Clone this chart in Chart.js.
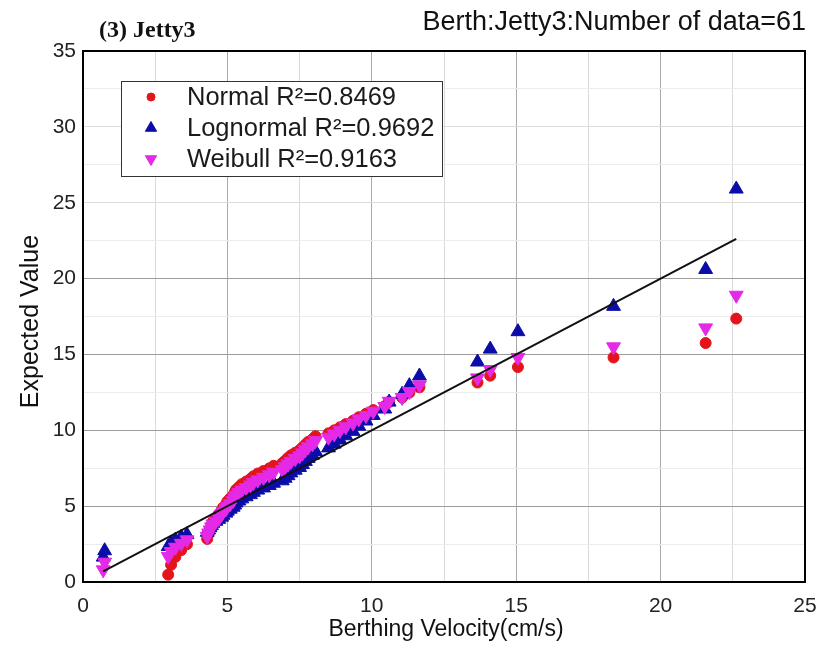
<!DOCTYPE html>
<html>
<head>
<meta charset="utf-8">
<script src="https://cdn.jsdelivr.net/npm/chart.js@4.4.1/dist/chart.umd.min.js"></script>
<style>
  html, body { margin: 0; padding: 0; background: #ffffff; }
  #wrap { width: 823px; height: 649px; }
</style>
</head>
<body>
<div id="wrap"><canvas id="chart" width="823" height="649"></canvas></div>
<script>
// Observed berthing velocities (cm/s), sorted ascending
const velocity = [0.70, 0.75, 2.95, 3.05, 3.20, 3.40, 3.60, 4.30, 4.35, 4.40,
  4.45, 4.50, 4.60, 4.70, 4.80, 4.85, 4.95, 5.00, 5.10, 5.20,
  5.25, 5.30, 5.40, 5.50, 5.65, 5.80, 5.90, 6.05, 6.25, 6.45,
  6.60, 6.90, 7.00, 7.10, 7.20, 7.35, 7.50, 7.60, 7.70, 7.80,
  7.95, 8.05, 8.50, 8.70, 8.90, 9.10, 9.35, 9.55, 9.80, 10.05,
  10.45, 10.60, 11.05, 11.30, 11.65, 13.66, 14.10, 15.06, 18.37, 21.56,
  22.62];

// Expected values of each fitted distribution at the same ranks
const normalExpected = [-2.03, -0.42, 0.48, 1.13, 1.66, 2.10, 2.49, 2.84, 3.16, 3.45,
  3.73, 3.99, 4.23, 4.47, 4.69, 4.91, 5.12, 5.32, 5.52, 5.71,
  5.90, 6.08, 6.26, 6.45, 6.62, 6.80, 6.97, 7.15, 7.32, 7.49,
  7.66, 7.83, 8.00, 8.18, 8.35, 8.52, 8.69, 8.87, 9.06, 9.24,
  9.42, 9.61, 9.80, 10.00, 10.20, 10.41, 10.63, 10.86, 11.09, 11.33,
  11.59, 11.87, 12.16, 12.48, 12.83, 13.15, 13.60, 14.17, 14.80, 15.75,
  17.36];

const lognormalExpected = [1.64, 2.06, 2.34, 2.57, 2.77, 2.95, 3.12, 3.28, 3.43, 3.58,
  3.72, 3.87, 4.00, 4.13, 4.27, 4.40, 4.54, 4.67, 4.80, 4.93,
  5.07, 5.21, 5.34, 5.48, 5.62, 5.76, 5.91, 6.06, 6.20, 6.36,
  6.51, 6.67, 6.84, 7.01, 7.19, 7.37, 7.55, 7.74, 7.95, 8.15,
  8.36, 8.60, 8.84, 9.09, 9.36, 9.64, 9.93, 10.27, 10.61, 10.98,
  11.40, 11.86, 12.37, 12.94, 13.58, 14.50, 15.35, 16.50, 18.17, 20.60,
  25.90];

const weibullExpected = [0.80, 1.31, 1.69, 2.01, 2.29, 2.55, 2.78, 3.01, 3.23, 3.43,
  3.63, 3.82, 4.01, 4.19, 4.47, 4.64, 4.82, 4.99, 5.16, 5.38,
  5.55, 5.72, 5.89, 6.06, 6.22, 6.39, 6.56, 6.73, 6.90, 7.07,
  7.24, 7.41, 7.59, 7.77, 7.95, 8.14, 8.32, 8.51, 8.71, 8.91,
  9.11, 9.32, 9.54, 9.76, 9.99, 10.23, 10.48, 10.75, 10.97, 11.26,
  11.57, 11.91, 12.16, 12.55, 12.99, 13.45, 14.00, 14.80, 15.50, 16.75,
  18.90];

// Reference line (expected = observed) across the data range
const refLineX = [0.70, 22.62];
const refLineY = [0.70, 22.62];

const seriesNames = ['Normal', 'Lognormal', 'Weibull'];
const rSquared = ['0.8469', '0.9692', '0.9163'];

const xAxisTitle = 'Berthing Velocity(cm/s)';
const yAxisTitle = 'Expected Value';
const panelTitle = '(3) Jetty3';
const headerText = 'Berth:Jetty3:Number of data=61';

const SANS = '"Liberation Sans", Arial, Helvetica, sans-serif';
const SERIF = '"Liberation Serif", "Times New Roman", serif';

const COLORS = { normal: '#e3141c', lognormal: '#0c0ca8', weibull: '#e42ae6' };

function pairs(xs, ys) {
  return xs.map((x, i) => ({ x: x, y: ys[i] }));
}

const markerStyles = [
  { pointStyle: 'circle', radius: 5.5, rotation: 0, color: COLORS.normal },
  { pointStyle: 'triangle', radius: 8, rotation: 0, color: COLORS.lognormal },
  { pointStyle: 'triangle', radius: 8, rotation: 180, color: COLORS.weibull }
];

const seriesValues = [normalExpected, lognormalExpected, weibullExpected];

// higher "order" is painted first, so Weibull ends up on top of the pile
const datasets = seriesNames.map((name, k) => ({
  type: 'scatter',
  label: name + ' R\u00B2=' + rSquared[k],
  data: pairs(velocity, seriesValues[k]),
  pointStyle: markerStyles[k].pointStyle,
  pointRadius: markerStyles[k].radius,
  pointRotation: markerStyles[k].rotation,
  pointBackgroundColor: markerStyles[k].color,
  pointBorderColor: markerStyles[k].color,
  pointBorderWidth: 1,
  order: 4 - k,
  clip: 0
}));

datasets.push({
  type: 'line',
  label: 'reference',
  data: pairs(refLineX, refLineY),
  borderColor: '#111111',
  borderWidth: 2,
  pointRadius: 0,
  fill: false,
  order: 0,
  clip: 0
});

function gridColorX(ctx) {
  const v = ctx.tick ? ctx.tick.value : 0;
  if (v === 0 || v === 25) return 'rgba(0,0,0,0)';
  return (v % 5 === 0) ? '#a9a9a9' : '#dadada';
}
function gridColorY(ctx) {
  const v = ctx.tick ? ctx.tick.value : 0;
  if (v === 0 || v === 35) return 'rgba(0,0,0,0)';
  if (v % 5 === 0) return v <= 20 ? '#9c9c9c' : '#dddddd';
  return '#ececec';
}

const decorations = {
  id: 'decorations',
  afterDraw(chart) {
    const ctx = chart.ctx;
    const a = chart.chartArea;
    ctx.save();

    // plot frame
    ctx.strokeStyle = '#000000';
    ctx.lineWidth = 2;
    ctx.strokeRect(a.left, a.top, a.right - a.left, a.bottom - a.top);

    // legend box
    const lx = 121, ly = 81, lw = 321, lh = 95;
    ctx.fillStyle = '#ffffff';
    ctx.fillRect(lx, ly, lw, lh);
    ctx.lineWidth = 1;
    ctx.strokeStyle = '#333333';
    ctx.strokeRect(lx + 0.5, ly + 0.5, lw, lh);
    const rowY = [97, 128, 159];
    ctx.font = '25.5px ' + SANS;
    ctx.textBaseline = 'middle';
    ctx.textAlign = 'left';
    chart.data.datasets.slice(0, 3).forEach((ds, k) => {
      const m = markerStyles[k];
      ctx.fillStyle = m.color;
      ctx.strokeStyle = m.color;
      ctx.lineWidth = 1;
      Chart.helpers.drawPoint(ctx, {
        pointStyle: m.pointStyle, radius: m.radius - 1.5, rotation: m.rotation, borderWidth: 1
      }, 151, rowY[k]);
      ctx.fillStyle = '#1a1a1a';
      ctx.fillText(ds.label, 187, rowY[k] + 1);
    });

    // titles
    ctx.fillStyle = '#111111';
    ctx.textBaseline = 'alphabetic';
    ctx.font = 'bold 24px ' + SERIF;
    ctx.textAlign = 'left';
    ctx.fillText(panelTitle, 99, 37);

    ctx.font = '27px ' + SANS;
    ctx.textAlign = 'right';
    ctx.fillText(headerText, 806, 30);

    // axis titles
    ctx.font = '23px ' + SANS;
    ctx.textAlign = 'center';
    ctx.textBaseline = 'middle';
    ctx.fillText(xAxisTitle, (a.left + a.right) / 2 + 2, 630);

    ctx.save();
    ctx.font = '25px ' + SANS;
    ctx.translate(31, (a.top + a.bottom) / 2 + 5);
    ctx.rotate(-Math.PI / 2);
    ctx.fillText(yAxisTitle, 0, 0);
    ctx.restore();

    ctx.restore();
  }
};

new Chart(document.getElementById('chart'), {
  data: { datasets: datasets },
  options: {
    responsive: false,
    animation: false,
    devicePixelRatio: 1,
    events: [],
    layout: { padding: { left: 0, right: 18, top: 51, bottom: 0 } },
    plugins: { legend: { display: false }, tooltip: { enabled: false }, title: { display: false } },
    scales: {
      x: {
        type: 'linear',
        min: 0, max: 25,
        afterFit(scale) {
          scale.height = 67;
          scale.paddingLeft = 0;
          scale.paddingRight = 0;
        },
        border: { display: false },
        grid: { color: gridColorX, lineWidth: 1, drawTicks: false },
        ticks: {
          stepSize: 2.5, autoSkip: false, maxRotation: 0, padding: 12,
          color: '#222222', font: { family: SANS, size: 21 },
          callback: v => (v % 5 === 0 ? String(v) : '')
        }
      },
      y: {
        type: 'linear',
        min: 0, max: 35,
        afterFit(scale) {
          scale.width = 83;
          scale.paddingTop = 0;
          scale.paddingBottom = 0;
        },
        border: { display: false },
        grid: { color: gridColorY, lineWidth: 1, drawTicks: false },
        ticks: {
          stepSize: 2.5, autoSkip: false, padding: 7,
          color: '#222222', font: { family: SANS, size: 21 },
          callback: v => (v % 5 === 0 ? String(v) : '')
        }
      }
    }
  },
  plugins: [decorations]
});
</script>
</body>
</html>
